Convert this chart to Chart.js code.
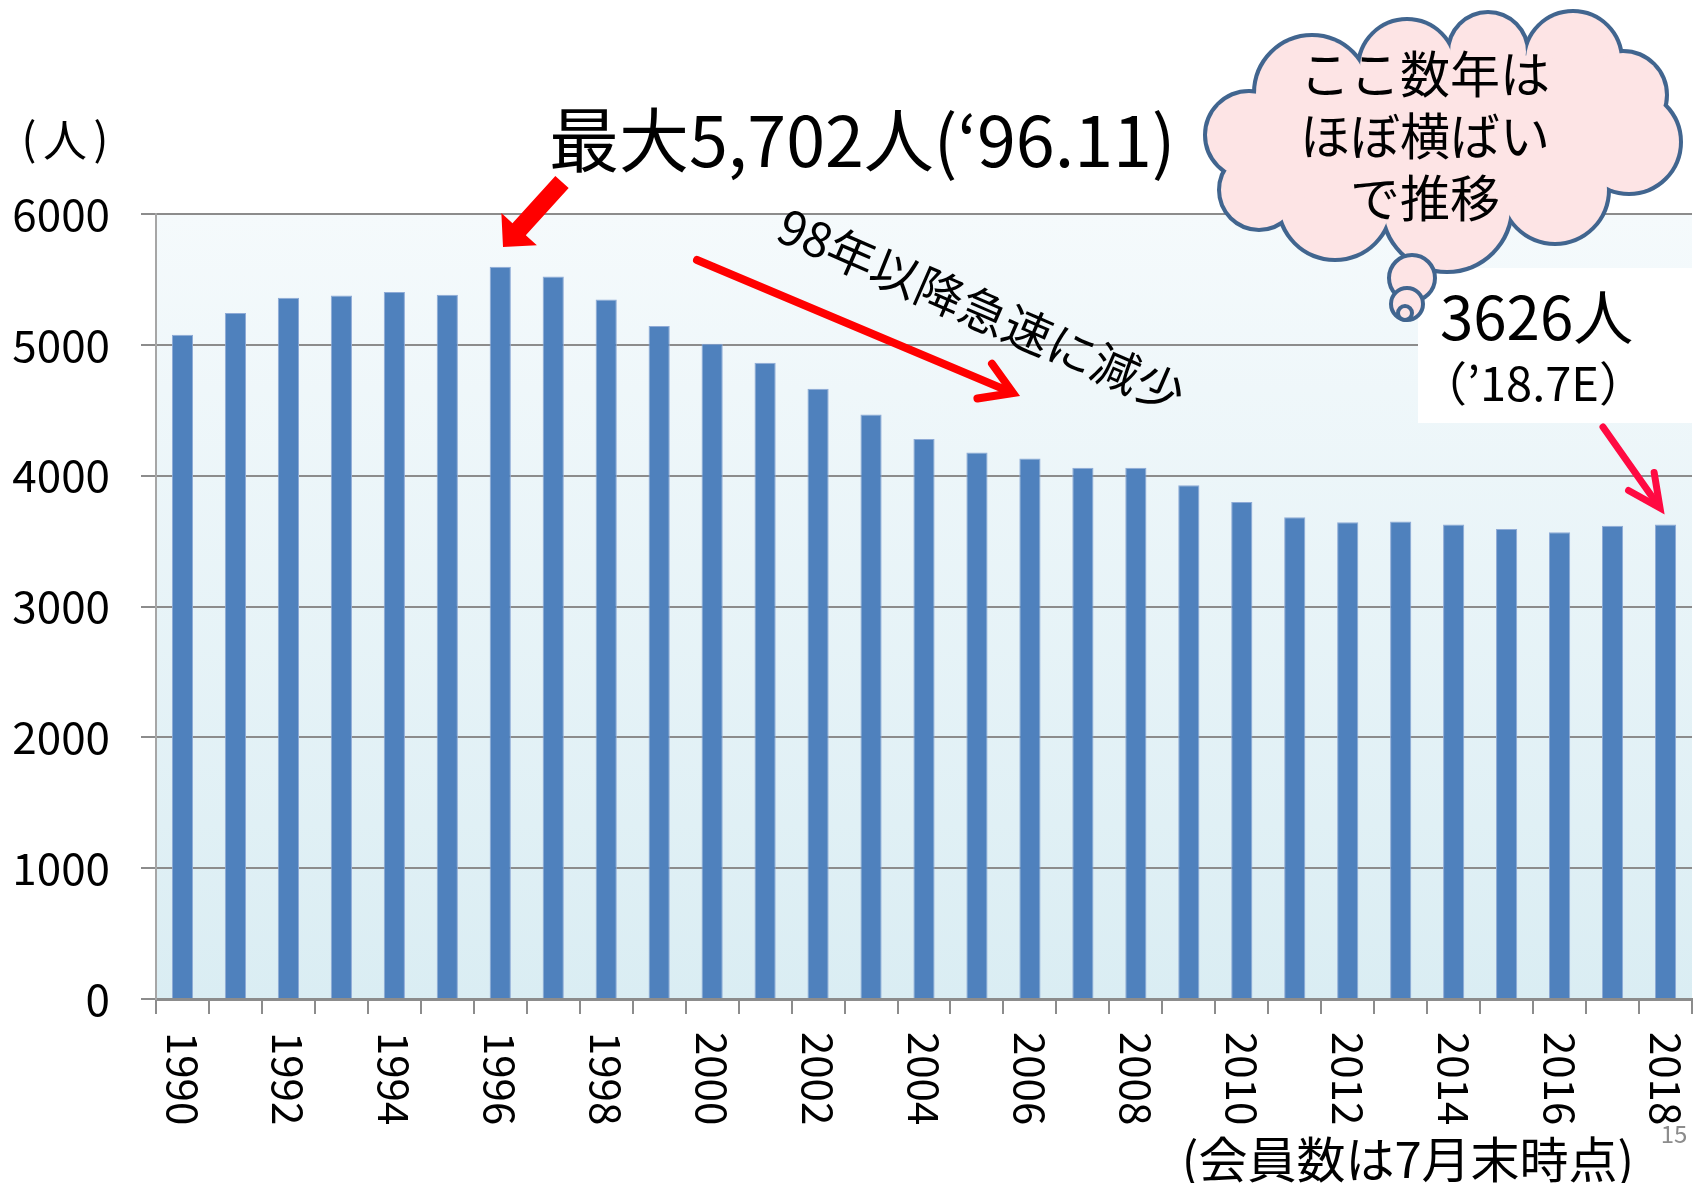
<!DOCTYPE html>
<html>
<head>
<meta charset="utf-8">
<script src="https://cdn.jsdelivr.net/npm/chart.js@4.4.1/dist/chart.umd.min.js"></script>
<style>
  html, body { margin: 0; padding: 0; background: #fff; }
  canvas { display: block; }
</style>
</head>
<body>
<canvas id="chart" width="1700" height="1183"></canvas>
<script>
// member count at end of July each year
const years = ['1990', '1991', '1992', '1993', '1994', '1995', '1996', '1997', '1998', '1999',
  '2000', '2001', '2002', '2003', '2004', '2005', '2006', '2007', '2008', '2009',
  '2010', '2011', '2012', '2013', '2014', '2015', '2016', '2017', '2018'];
const members = [5078, 5243, 5360, 5378, 5403, 5383, 5597, 5523, 5347, 5144,
  5009, 4863, 4664, 4468, 4280, 4178, 4132, 4061, 4061, 3926,
  3799, 3682, 3644, 3649, 3626, 3593, 3567, 3618, 3626];
const yTickValues = [0, 1000, 2000, 3000, 4000, 5000, 6000];
const xTickLabels = ['1990', '1992', '1994', '1996', '1998', '2000', '2002', '2004',
  '2006', '2008', '2010', '2012', '2014', '2016', '2018'];

const peakText = '最大5,702人(‘96.11)';
const declineText = '98年以降急速に減少';
const cloudLines = ['ここ数年は', 'ほぼ横ばい', 'で推移'];
const latestText = '3626人';
const latestDate = '（’18.7E）';
const footNote = '(会員数は7月末時点)';
const yUnit = '人';

const JP = '"Noto Sans CJK JP", "Noto Sans", sans-serif';
Chart.defaults.font.family = JP;

function lineArrow(ctx, x1, y1, x2, y2, color, width, headLen, headAng) {
  const a = Math.atan2(y2 - y1, x2 - x1);
  ctx.save();
  ctx.strokeStyle = color;
  ctx.lineWidth = width;
  ctx.lineCap = 'round';
  ctx.lineJoin = 'miter';
  ctx.beginPath();
  ctx.moveTo(x1, y1);
  ctx.lineTo(x2 - 3 * Math.cos(a), y2 - 3 * Math.sin(a));
  ctx.stroke();
  ctx.beginPath();
  ctx.moveTo(x2 - headLen * Math.cos(a - headAng), y2 - headLen * Math.sin(a - headAng));
  ctx.lineTo(x2, y2);
  ctx.lineTo(x2 - headLen * Math.cos(a + headAng), y2 - headLen * Math.sin(a + headAng));
  ctx.stroke();
  ctx.restore();
}

function blockArrow(ctx, tx, ty, px, py, shaft, head, headLen, color) {
  const len = Math.hypot(px - tx, py - ty);
  const dx = (px - tx) / len, dy = (py - ty) / len;
  const nx = -dy, ny = dx;
  const bx = px - dx * headLen, by = py - dy * headLen;
  ctx.save();
  ctx.fillStyle = color;
  ctx.beginPath();
  ctx.moveTo(tx + nx * shaft, ty + ny * shaft);
  ctx.lineTo(bx + nx * shaft, by + ny * shaft);
  ctx.lineTo(bx + nx * head, by + ny * head);
  ctx.lineTo(px, py);
  ctx.lineTo(bx - nx * head, by - ny * head);
  ctx.lineTo(bx - nx * shaft, by - ny * shaft);
  ctx.lineTo(tx - nx * shaft, ty - ny * shaft);
  ctx.closePath();
  ctx.fill();
  ctx.restore();
}

function drawCloud(ctx) {
  const bumps = [
    [1249, 135, 42], [1312, 93, 56], [1407, 68, 47], [1488, 52, 38], [1573, 60, 47],
    [1623, 95, 42], [1629, 142, 50], [1555, 190, 52], [1447, 207, 63], [1335, 203, 55],
    [1259, 190, 38]
  ];
  const fill = '#fde4e5', line = '#41658f';
  ctx.save();
  ctx.strokeStyle = line;
  ctx.lineWidth = 8;
  bumps.forEach(([x, y, r]) => {
    ctx.beginPath(); ctx.arc(x, y, r, 0, Math.PI * 2); ctx.stroke();
  });
  ctx.fillStyle = fill;
  bumps.forEach(([x, y, r]) => {
    ctx.beginPath(); ctx.arc(x, y, r, 0, Math.PI * 2); ctx.fill();
  });
  ctx.beginPath();
  bumps.forEach(([x, y], i) => (i ? ctx.lineTo(x, y) : ctx.moveTo(x, y)));
  ctx.closePath();
  ctx.fill();
  // thought bubbles
  ctx.lineWidth = 4;
  [[1412, 278, 23], [1407, 304, 16], [1405, 313, 7]].forEach(([x, y, r]) => {
    ctx.beginPath(); ctx.arc(x, y, r, 0, Math.PI * 2); ctx.fill(); ctx.stroke();
  });
  ctx.fillStyle = '#000';
  ctx.font = `50px ${JP}`;
  ctx.textAlign = 'center';
  ctx.textBaseline = 'middle';
  cloudLines.forEach((t, i) => ctx.fillText(t, 1425, 74 + i * 62));
  ctx.restore();
}

const annotations = {
  id: 'annotations',
  beforeDraw(chart) {
    const { ctx, chartArea: a } = chart;
    const g = ctx.createLinearGradient(0, a.top, 0, a.bottom);
    g.addColorStop(0, '#f5fafc');
    g.addColorStop(1, '#daedf3');
    ctx.save();
    ctx.fillStyle = g;
    ctx.fillRect(a.left, a.top, a.right - a.left, a.bottom - a.top);
    ctx.restore();
  },
  afterDraw(chart) {
    const ctx = chart.ctx;
    const xs = chart.scales.x;
    ctx.save();
    ctx.fillStyle = '#000';

    // rotated year labels, reading downwards
    ctx.font = `42px ${JP}`;
    ctx.textAlign = 'left';
    ctx.textBaseline = 'middle';
    years.forEach((y, i) => {
      if (!xTickLabels.includes(y)) return;
      ctx.save();
      ctx.translate(xs.getPixelForValue(i), 1032);
      ctx.rotate(Math.PI / 2);
      ctx.fillText(y, 0, 0);
      ctx.restore();
    });

    // unit
    ctx.font = `44px ${JP}`;
    ctx.textAlign = 'center';
    ctx.fillText('(', 29, 138);
    ctx.fillText(yUnit, 65, 140);
    ctx.fillText(')', 101, 138);

    // peak note
    ctx.textAlign = 'left';
    ctx.textBaseline = 'alphabetic';
    ctx.font = `70px ${JP}`;
    ctx.fillText(peakText, 549, 167);
    blockArrow(ctx, 562, 182, 503, 247, 9, 24, 24, '#ff0000');

    // decline note
    lineArrow(ctx, 697, 260, 1013, 393, '#ff0000', 8, 36, 0.55);
    ctx.save();
    ctx.translate(781, 223);
    ctx.rotate(23.5 * Math.PI / 180);
    ctx.font = `48px ${JP}`;
    ctx.textBaseline = 'middle';
    ctx.fillText(declineText, 0, 0);
    ctx.restore();

    // latest value box
    ctx.fillStyle = '#fff';
    ctx.fillRect(1418, 268, 274, 155);
    ctx.fillStyle = '#000';
    ctx.font = `60px ${JP}`;
    ctx.fillText(latestText, 1440, 340);
    ctx.font = `47px ${JP}`;
    ctx.textAlign = 'center';
    ctx.fillText(latestDate, 1533, 401);
    lineArrow(ctx, 1603, 427, 1660, 508, '#ff0a42', 7, 36, 0.45);

    drawCloud(ctx);

    // footnotes
    ctx.fillStyle = '#000';
    ctx.textAlign = 'center';
    ctx.textBaseline = 'alphabetic';
    ctx.font = `49px ${JP}`;
    ctx.fillText(footNote, 1408, 1178);
    ctx.fillStyle = '#8c8c8c';
    ctx.font = `24px ${JP}`;
    ctx.textBaseline = 'middle';
    ctx.fillText('15', 1674, 1134);
    ctx.restore();
  }
};

new Chart(document.getElementById('chart'), {
  type: 'bar',
  data: {
    labels: years,
    datasets: [{
      data: members,
      backgroundColor: '#4f81bd',
      borderColor: '#8eaad6',
      borderWidth: 1,
      borderSkipped: 'bottom',
      barPercentage: 0.4,
      categoryPercentage: 1
    }]
  },
  options: {
    responsive: false,
    animation: false,
    layout: { padding: { top: 214, right: 8, bottom: 0, left: 0 } },
    plugins: { legend: { display: false }, tooltip: { enabled: false }, title: { display: false } },
    scales: {
      x: {
        afterFit: s => { s.height = 184; },
        grid: {
          display: true, drawOnChartArea: false, drawTicks: true, offset: true,
          tickLength: 15, color: '#8c8c8c', tickColor: '#8c8c8c', lineWidth: 2
        },
        border: { display: true, color: '#8c8c8c', width: 3 },
        ticks: { display: false, autoSkip: false }
      },
      y: {
        min: 0,
        max: 6000,
        afterBuildTicks: s => { s.ticks = yTickValues.map(v => ({ value: v })); },
        afterFit: s => { s.width = 156; },
        grid: { color: '#8c8c8c', lineWidth: 2, tickLength: 15, tickColor: '#8c8c8c', drawTicks: true },
        border: { display: true, color: '#a6a6a6', width: 2 },
        ticks: { color: '#000', font: { size: 44 }, padding: 31, callback: v => String(v) }
      }
    }
  },
  plugins: [annotations]
});
</script>
</body>
</html>
